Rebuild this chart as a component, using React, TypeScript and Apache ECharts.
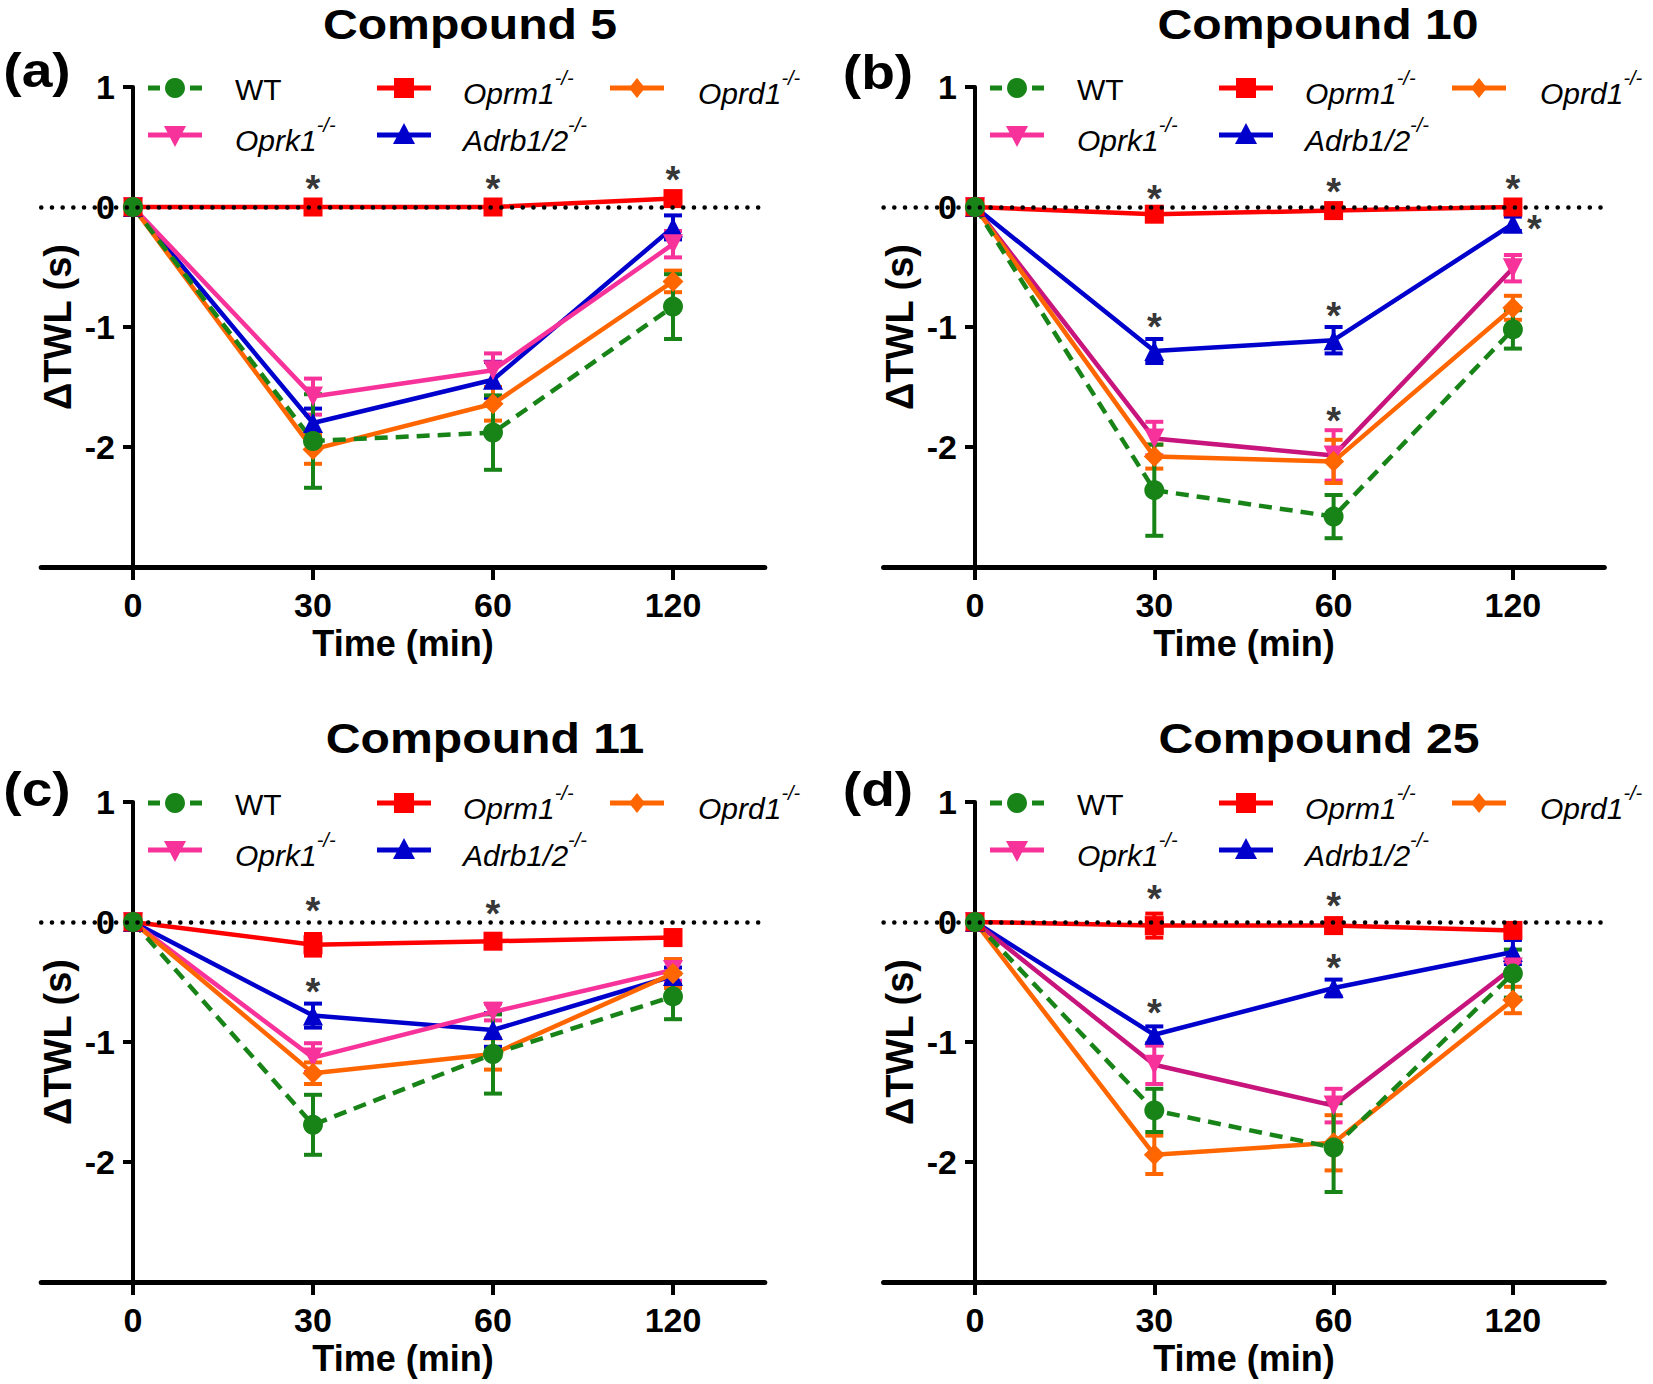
import React, { useEffect, useRef } from "react";
import * as echarts from "echarts";

// ---------- data ----------
const timeLabels = ["0", "30", "60", "120"];
const xPositions = [0, 1, 2, 3];
const groupNames = ["WT", "Oprm1", "Oprd1", "Oprk1", "Adrb1/2"];
const panelTitles = ["Compound 5", "Compound 10", "Compound 11", "Compound 25"];
const panelLetters = ["(a)", "(b)", "(c)", "(d)"];
const yTickValues = [1, 0, -1, -2];

// Compound 5
const c5WT = [0, -1.95, -1.88, -0.83];
const c5WTErr = [0, 0.39, 0.31, 0.27];
const c5Oprm1 = [0, 0.0, 0.0, 0.07];
const c5Oprm1Err = [0, 0.03, 0.05, 0.03];
const c5Oprd1 = [0, -2.02, -1.64, -0.62];
const c5Oprd1Err = [0, 0.12, 0.14, 0.09];
const c5Oprk1 = [0, -1.58, -1.36, -0.31];
const c5Oprk1Err = [0, 0.15, 0.14, 0.11];
const c5Adrb = [0, -1.8, -1.44, -0.17];
const c5AdrbErr = [0, 0.12, 0.15, 0.1];
const c5Stars = [[1, 0.22], [2, 0.22], [3, 0.29]];

// Compound 10
const c10WT = [0, -2.36, -2.58, -1.02];
const c10WTErr = [0, 0.38, 0.18, 0.16];
const c10Oprm1 = [0, -0.06, -0.03, 0.0];
const c10Oprm1Err = [0, 0.04, 0.03, 0.02];
const c10Oprd1 = [0, -2.08, -2.12, -0.84];
const c10Oprd1Err = [0, 0.1, 0.18, 0.1];
const c10Oprk1 = [0, -1.93, -2.07, -0.51];
const c10Oprk1Err = [0, 0.14, 0.21, 0.11];
const c10Adrb = [0, -1.2, -1.11, -0.14];
const c10AdrbErr = [0, 0.1, 0.11, 0.06];
const c10Stars = [[1, 0.13], [2, 0.19], [3, 0.22], [1, -0.93], [2, -0.84], [2, -1.72], [3.12, -0.12]];

// Compound 11
const c11WT = [0, -1.69, -1.1, -0.62];
const c11WTErr = [0, 0.25, 0.33, 0.19];
const c11Oprm1 = [0, -0.19, -0.16, -0.13];
const c11Oprm1Err = [0, 0.09, 0.05, 0.06];
const c11Oprd1 = [0, -1.26, -1.1, -0.43];
const c11Oprd1Err = [0, 0.09, 0.13, 0.12];
const c11Oprk1 = [0, -1.13, -0.75, -0.4];
const c11Oprk1Err = [0, 0.12, 0.07, 0.09];
const c11Adrb = [0, -0.78, -0.9, -0.45];
const c11AdrbErr = [0, 0.1, 0.14, 0.07];
const c11Stars = [[1, 0.16], [2, 0.13], [1, -0.52]];

// Compound 25
const c25WT = [0, -1.57, -1.88, -0.43];
const c25WTErr = [0, 0.18, 0.37, 0.2];
const c25Oprm1 = [0, -0.03, -0.03, -0.07];
const c25Oprm1Err = [0, 0.1, 0.04, 0.03];
const c25Oprd1 = [0, -1.94, -1.84, -0.65];
const c25Oprd1Err = [0, 0.16, 0.23, 0.11];
const c25Oprk1 = [0, -1.19, -1.53, -0.38];
const c25Oprk1Err = [0, 0.16, 0.14, 0.05];
const c25Adrb = [0, -0.94, -0.55, -0.25];
const c25AdrbErr = [0, 0.07, 0.07, 0.1];
const c25Stars = [[1, 0.26], [2, 0.2], [1, -0.69], [2, -0.32]];

const panelMeans = [
  [c5WT, c5Oprm1, c5Oprd1, c5Oprk1, c5Adrb],
  [c10WT, c10Oprm1, c10Oprd1, c10Oprk1, c10Adrb],
  [c11WT, c11Oprm1, c11Oprd1, c11Oprk1, c11Adrb],
  [c25WT, c25Oprm1, c25Oprd1, c25Oprk1, c25Adrb],
];
const panelErrs = [
  [c5WTErr, c5Oprm1Err, c5Oprd1Err, c5Oprk1Err, c5AdrbErr],
  [c10WTErr, c10Oprm1Err, c10Oprd1Err, c10Oprk1Err, c10AdrbErr],
  [c11WTErr, c11Oprm1Err, c11Oprd1Err, c11Oprk1Err, c11AdrbErr],
  [c25WTErr, c25Oprm1Err, c25Oprd1Err, c25Oprk1Err, c25AdrbErr],
];
const panelStars = [c5Stars, c10Stars, c11Stars, c25Stars];

// ---------- styles / layout ----------
const FONT = "'Liberation Sans', Arial, Helvetica, sans-serif";
const colors = ["#188418", "#FF0000", "#FF6600", "#F7329A", "#0000CC"];
const kLineDark = "#C8157E";
const symbols = ["circle", "rect", "diamond", "triangle", "triangle"];
const symbolRotates = [0, 0, 0, 180, 0];
const symbolSizes = [20, 19, 21, 20, 20];
const drawOrder = [4, 3, 2, 1, 0];
const X_MIN = -0.51;
const X_MAX = 3.51;

const layout = [
  { x0: 133, top: 87, unit: 180, titleX: 470, titleY: 24, letterX: 37, letterY: 70, darkK: false },
  { x0: 975, top: 87, unit: 179.3, titleX: 1318, titleY: 24, letterX: 878, letterY: 72, darkK: true },
  { x0: 133, top: 802, unit: 180, titleX: 485, titleY: 738, letterX: 37, letterY: 789, darkK: false },
  { x0: 975, top: 802, unit: 179.3, titleX: 1319, titleY: 738, letterX: 878, letterY: 789, darkK: true },
];
const PLOT_H = 480;
const legendCols = [
  { sym: 15, text: 102 },
  { sym: 244, text: 330 },
  { sym: 477, text: 565 },
];
const legendSlots = [
  [0, 0],
  [0, 1],
  [0, 2],
  [1, 0],
  [1, 1],
];

function legendSymbol(g: number, cx: number, cy: number) {
  const fill = colors[g];
  if (g === 0) return { type: "circle", shape: { cx, cy, r: 10 }, style: { fill } };
  if (g === 1) return { type: "rect", shape: { x: cx - 10, y: cy - 10, width: 20, height: 20 }, style: { fill } };
  if (g === 2)
    return { type: "polygon", shape: { points: [[cx, cy - 10], [cx + 8, cy], [cx, cy + 10], [cx - 8, cy]] }, style: { fill } };
  if (g === 3)
    return { type: "polygon", shape: { points: [[cx - 11, cy - 9], [cx + 11, cy - 9], [cx, cy + 12]] }, style: { fill } };
  return { type: "polygon", shape: { points: [[cx - 11, cy + 9], [cx + 11, cy + 9], [cx, cy - 12]] }, style: { fill } };
}

function buildOption() {
  const grid: any[] = [];
  const xAxis: any[] = [];
  const yAxis: any[] = [];
  const series: any[] = [];
  const graphic: any[] = [];

  layout.forEach((L, i) => {
    const left = L.x0 + X_MIN * L.unit;
    const width = (X_MAX - X_MIN) * L.unit;
    grid.push({ left, top: L.top, width, height: PLOT_H, containLabel: false, outerBoundsMode: "none" });

    xAxis.push({
      gridIndex: i,
      type: "value",
      min: X_MIN,
      max: X_MAX,
      axisLine: { show: true, onZero: false, lineStyle: { color: "#000", width: 5 } },
      axisTick: { show: true, customValues: xPositions, length: 13, lineStyle: { color: "#000", width: 4 } },
      axisLabel: {
        show: true,
        customValues: xPositions,
        formatter: (v: number) => timeLabels[xPositions.indexOf(Math.round(v))] ?? "",
        fontSize: 34,
        lineHeight: 28,
        fontWeight: "bold",
        color: "#000",
        fontFamily: FONT,
        margin: 24,
      },
      splitLine: { show: false },
      name: "Time (min)",
      nameLocation: "middle",
      nameGap: 61,
      nameMoveOverlap: false,
      nameTextStyle: { fontSize: 36, lineHeight: 30, fontWeight: "bold", color: "#000", fontFamily: FONT },
    });

    yAxis.push({
      gridIndex: i,
      type: "value",
      min: -3,
      max: 1,
      interval: 1,
      offset: X_MIN * L.unit,
      axisLine: { show: true, onZero: false, lineStyle: { color: "#000", width: 4 } },
      axisTick: { show: true, length: 10, lineStyle: { color: "#000", width: 4 } },
      axisLabel: {
        fontSize: 34,
        fontWeight: "bold",
        color: "#000",
        fontFamily: FONT,
        margin: 18,
        formatter: (v: number) => (yTickValues.indexOf(v) >= 0 ? String(v) : ""),
      },
      splitLine: { show: false },
      name: "ΔTWL (s)",
      nameLocation: "middle",
      nameGap: 56,
      nameMoveOverlap: false,
      nameTextStyle: { fontSize: 38, fontWeight: "bold", color: "#000", fontFamily: FONT },
    });

    // dotted zero line
    series.push({
      type: "line",
      xAxisIndex: i,
      yAxisIndex: i,
      data: [],
      silent: true,
      markLine: {
        silent: true,
        symbol: ["none", "none"],
        label: { show: false },
        lineStyle: { color: "#000", type: [0.1, 10.6], width: 4.5, cap: "round" },
        emphasis: { disabled: true },
        data: [{ yAxis: 0 }],
      },
    });

    drawOrder.forEach((g) => {
      const means = panelMeans[i][g];
      const errs = panelErrs[i][g];
      const col = colors[g];
      series.push({
        type: "custom",
        xAxisIndex: i,
        yAxisIndex: i,
        silent: true,
        clip: false,
        data: xPositions.map((x, k) => [x, means[k], errs[k]]),
        renderItem: (params: any, api: any) => {
          const x = api.value(0);
          const y = api.value(1);
          const e = api.value(2);
          if (!e) return { type: "group", children: [] };
          const t = api.coord([x, y + e]);
          const b = api.coord([x, y - e]);
          const hw = 9;
          const st = { stroke: col, lineWidth: 4, fill: null };
          return {
            type: "group",
            children: [
              { type: "line", shape: { x1: t[0], y1: t[1], x2: b[0], y2: b[1] }, style: st },
              { type: "line", shape: { x1: t[0] - hw, y1: t[1], x2: t[0] + hw, y2: t[1] }, style: st },
              { type: "line", shape: { x1: b[0] - hw, y1: b[1], x2: b[0] + hw, y2: b[1] }, style: st },
            ],
          };
        },
      });
      const lineColor = g === 3 && L.darkK ? kLineDark : col;
      series.push({
        type: "line",
        name: groupNames[g],
        xAxisIndex: i,
        yAxisIndex: i,
        data: xPositions.map((x, k) => [x, means[k]]),
        symbol: symbols[g],
        symbolSize: symbolSizes[g],
        symbolRotate: symbolRotates[g],
        showAllSymbol: true,
        itemStyle: { color: col },
        lineStyle: { color: lineColor, width: 4.5, type: g === 0 ? [13, 8] : "solid" },
        emphasis: { disabled: true },
        silent: true,
        clip: false,
      });
    });

    series.push({
      type: "scatter",
      xAxisIndex: i,
      yAxisIndex: i,
      data: panelStars[i],
      symbol: "circle",
      symbolSize: 1,
      itemStyle: { color: "rgba(0,0,0,0)" },
      silent: true,
      label: {
        show: true,
        position: "inside",
        formatter: "*",
        fontSize: 38,
        fontWeight: "bold",
        color: "#000",
        fontFamily: FONT,
        offset: [0, 8],
      },
    });

    // titles / letters
    graphic.push({
      type: "text",
      x: L.titleX,
      y: L.titleY,
      scaleX: 1.12,
      style: {
        text: panelTitles[i],
        fontSize: 43,
        fontWeight: "bold",
        fontFamily: FONT,
        fill: "#000",
        align: "center",
        verticalAlign: "middle",
      },
    });
    graphic.push({
      type: "text",
      x: L.letterX,
      y: L.letterY,
      scaleX: 1.15,
      style: {
        text: panelLetters[i],
        fontSize: 48,
        fontWeight: "bold",
        fontFamily: FONT,
        fill: "#000",
        align: "center",
        verticalAlign: "middle",
      },
    });

    // legend
    groupNames.forEach((name, g) => {
      const [r, c] = legendSlots[g];
      const rowY = L.top + 1 + r * 47;
      const x1 = L.x0 + legendCols[c].sym;
      const x2 = x1 + 54;
      graphic.push({
        type: "line",
        shape: { x1, y1: rowY, x2, y2: rowY },
        style: { stroke: colors[g], lineWidth: 5, lineDash: g === 0 ? [12, 9] : null },
      });
      graphic.push(legendSymbol(g, (x1 + x2) / 2, rowY));
      const isGene = g !== 0;
      graphic.push({
        type: "text",
        x: L.x0 + legendCols[c].text,
        y: rowY + (isGene ? 5 : 1),
        style: {
          text: isGene ? `{i|${name}}{s|-/-}` : name,
          fontSize: 30,
          fontFamily: FONT,
          fill: "#000",
          align: "left",
          verticalAlign: "middle",
          rich: {
            i: { fontSize: 30, fontStyle: "italic", fontFamily: FONT, lineHeight: 50, fill: "#000" },
            s: { fontSize: 20, fontStyle: "italic", fontFamily: FONT, lineHeight: 18, verticalAlign: "top", fill: "#000" },
          },
        },
      });
    });
  });

  return {
    animation: false,
    backgroundColor: "#fff",
    textStyle: { fontFamily: FONT },
    grid,
    xAxis,
    yAxis,
    series,
    graphic,
  };
}

export default function App() {
  const ref = useRef<HTMLDivElement>(null);
  useEffect(() => {
    if (!ref.current) return;
    const chart = echarts.init(ref.current, null, { renderer: "svg" });
    chart.setOption(buildOption() as any);
    return () => chart.dispose();
  }, []);
  return (
    <div
      ref={ref}
      style={{ position: "fixed", left: 0, top: 0, width: 1653, height: 1384, background: "#fff" }}
    />
  );
}
